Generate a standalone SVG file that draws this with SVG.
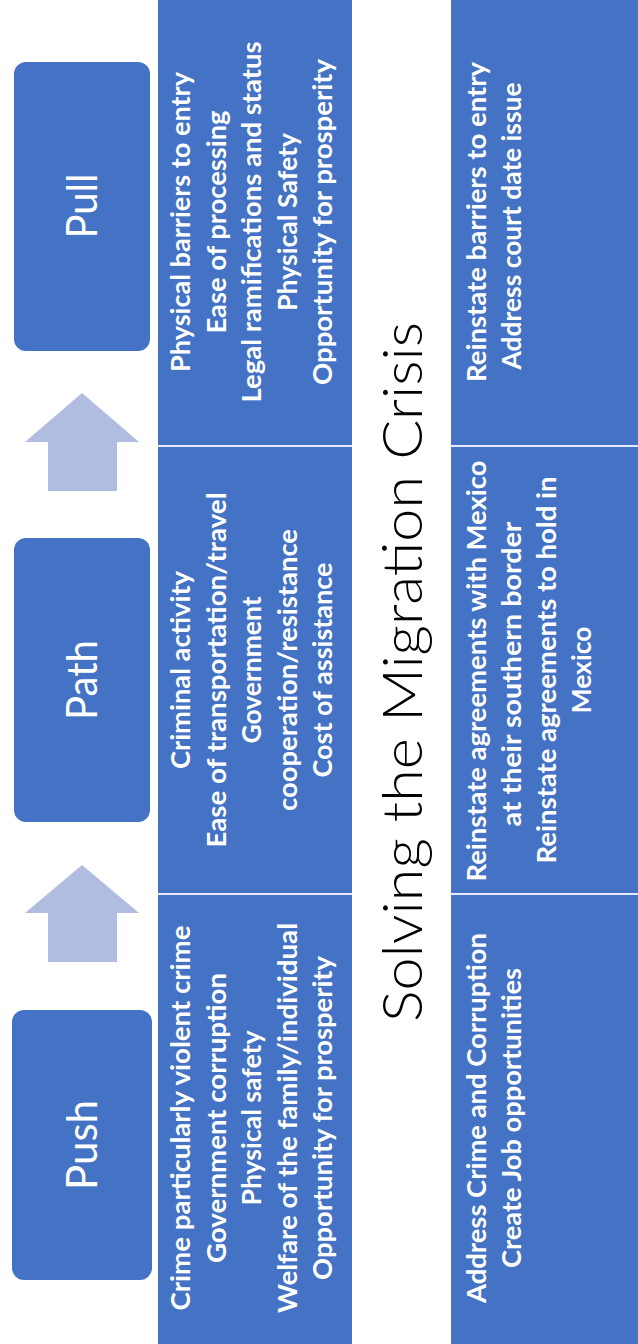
<svg xmlns="http://www.w3.org/2000/svg" width="638" height="1344" viewBox="0 0 638 1344">
  <style>
    .panel { fill: #4472C4; }
    .sep { stroke: #E3E9F5; stroke-width: 2; }
    .box { fill: #4472C4; }
    .arrow { fill: #B1BDE0; }
    .lbl { font-family: Lato, "Open Sans", "Liberation Sans", sans-serif; font-weight: 400; font-size: 43px; fill: #FFFFFF; text-anchor: middle; }
    .item { font-family: Lato, "Open Sans", "Liberation Sans", sans-serif; font-weight: 700; font-size: 26px; fill: #FFFFFF; text-anchor: middle; }
    .title { font-family: Lato, "Open Sans", "Liberation Sans", sans-serif; font-weight: 300; font-size: 56px; fill: #000000; text-anchor: middle; }
  </style>
  <rect width="638" height="1344" fill="#FFFFFF"/>

  <g id="connectors">
    <polygon class="arrow" points="82,393 139,442 117,442 117,491 48,491 48,442 25,442"/>
    <polygon class="arrow" points="82,865 139,913 117,913 117,962 48,962 48,913 25,913"/>
  </g>

  <g id="node-pull">
    <rect class="box" x="14" y="62" width="136" height="289" rx="12" ry="12"/>
    <text class="lbl" transform="translate(97,206) rotate(-90)" textLength="65" lengthAdjust="spacingAndGlyphs">Pull</text>
  </g>
  <g id="node-path">
    <rect class="box" x="14" y="538" width="136" height="284" rx="12" ry="12"/>
    <text class="lbl" transform="translate(97,680) rotate(-90)" textLength="80" lengthAdjust="spacingAndGlyphs">Path</text>
  </g>
  <g id="node-push">
    <rect class="box" x="12" y="1010" width="140" height="270" rx="12" ry="12"/>
    <text class="lbl" transform="translate(97,1145) rotate(-90)" textLength="90" lengthAdjust="spacingAndGlyphs">Push</text>
  </g>

  <g id="node-factors">
    <rect class="panel" x="158" y="0" width="194" height="1344"/>
    <line class="sep" x1="158" y1="446" x2="352" y2="446"/>
    <line class="sep" x1="158" y1="894" x2="352" y2="894"/>
    <g id="pull-factors">
      <text class="item" transform="translate(190,222) rotate(-90)" textLength="300" lengthAdjust="spacingAndGlyphs">Physical barriers to entry</text>
      <text class="item" transform="translate(225.5,222) rotate(-90)" textLength="223" lengthAdjust="spacingAndGlyphs">Ease of processing</text>
      <text class="item" transform="translate(261,222) rotate(-90)" textLength="361" lengthAdjust="spacingAndGlyphs">Legal ramifications and status</text>
      <text class="item" transform="translate(296.5,222) rotate(-90)" textLength="178" lengthAdjust="spacingAndGlyphs">Physical Safety</text>
      <text class="item" transform="translate(332,222) rotate(-90)" textLength="326" lengthAdjust="spacingAndGlyphs">Opportunity for prosperity</text>
    </g>
    <g id="path-factors">
      <text class="item" transform="translate(190,670) rotate(-90)" textLength="198" lengthAdjust="spacingAndGlyphs">Criminal activity</text>
      <text class="item" transform="translate(225.5,670) rotate(-90)" textLength="355" lengthAdjust="spacingAndGlyphs">Ease of transportation/travel</text>
      <text class="item" transform="translate(261,670) rotate(-90)" textLength="147" lengthAdjust="spacingAndGlyphs">Government</text>
      <text class="item" transform="translate(296.5,670) rotate(-90)" textLength="282" lengthAdjust="spacingAndGlyphs">cooperation/resistance</text>
      <text class="item" transform="translate(332,670) rotate(-90)" textLength="215" lengthAdjust="spacingAndGlyphs">Cost of assistance</text>
    </g>
    <g id="push-factors">
      <text class="item" transform="translate(190,1118) rotate(-90)" textLength="385" lengthAdjust="spacingAndGlyphs">Crime particularly violent crime</text>
      <text class="item" transform="translate(225.5,1118) rotate(-90)" textLength="290" lengthAdjust="spacingAndGlyphs">Government corruption</text>
      <text class="item" transform="translate(261,1118) rotate(-90)" textLength="175" lengthAdjust="spacingAndGlyphs">Physical safety</text>
      <text class="item" transform="translate(296.5,1118) rotate(-90)" textLength="390" lengthAdjust="spacingAndGlyphs">Welfare of the family/individual</text>
      <text class="item" transform="translate(332,1118) rotate(-90)" textLength="324" lengthAdjust="spacingAndGlyphs">Opportunity for prosperity</text>
    </g>
  </g>

  <g id="node-title">
    <text class="title" transform="translate(422,672) rotate(-90)" textLength="700" lengthAdjust="spacingAndGlyphs">Solving the Migration Crisis</text>
  </g>

  <g id="node-solutions">
    <rect class="panel" x="451" y="0" width="187" height="1344"/>
    <line class="sep" x1="451" y1="446" x2="638" y2="446"/>
    <line class="sep" x1="451" y1="894" x2="638" y2="894"/>
    <g id="pull-solutions">
      <text class="item" transform="translate(486,222) rotate(-90)" textLength="320" lengthAdjust="spacingAndGlyphs">Reinstate barriers to entry</text>
      <text class="item" transform="translate(521,226) rotate(-90)" textLength="287" lengthAdjust="spacingAndGlyphs">Address court date issue</text>
    </g>
    <g id="path-solutions">
      <text class="item" transform="translate(486,671) rotate(-90)" textLength="421" lengthAdjust="spacingAndGlyphs">Reinstate agreements with Mexico</text>
      <text class="item" transform="translate(521,674) rotate(-90)" textLength="305" lengthAdjust="spacingAndGlyphs">at their southern border</text>
      <text class="item" transform="translate(556,670) rotate(-90)" textLength="387" lengthAdjust="spacingAndGlyphs">Reinstate agreements to hold in</text>
      <text class="item" transform="translate(591,670) rotate(-90)" textLength="87" lengthAdjust="spacingAndGlyphs">Mexico</text>
    </g>
    <g id="push-solutions">
      <text class="item" transform="translate(486,1118) rotate(-90)" textLength="370" lengthAdjust="spacingAndGlyphs">Address Crime and Corruption</text>
      <text class="item" transform="translate(521,1118) rotate(-90)" textLength="300" lengthAdjust="spacingAndGlyphs">Create Job opportunities</text>
    </g>
  </g>
</svg>
